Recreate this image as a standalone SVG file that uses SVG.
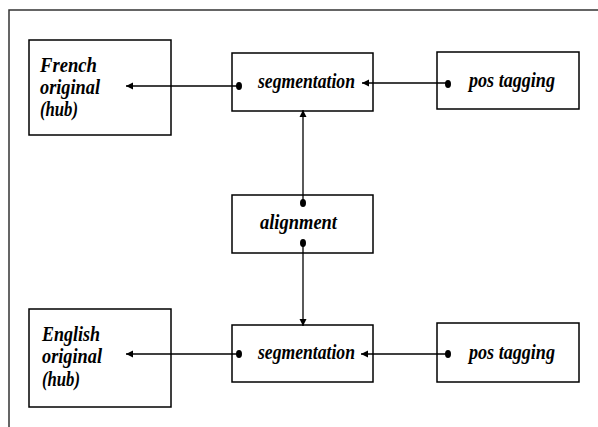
<svg xmlns="http://www.w3.org/2000/svg" width="598" height="427" viewBox="0 0 598 427">
<style>
.box{fill:#fff;stroke:#000;stroke-width:1.5}
.frame{fill:none;stroke:#333;stroke-width:1.5}
.t{font-family:'Liberation Serif','Times New Roman',serif;font-style:italic;font-weight:bold;font-size:21px;fill:#000}
.c{fill:none;stroke:#000;stroke-width:1.3}
.dot{fill:#000}
</style>
<defs>
<marker id="ah" viewBox="0 0 10 10" refX="10" refY="5" markerWidth="7" markerHeight="9" markerUnits="userSpaceOnUse" orient="auto">
<path d="M0,0 L10,5 L0,10 Z" fill="#000"/>
</marker>
</defs>
<rect width="598" height="427" fill="#fff"/>
<path class="frame" d="M9,427 V10 H598"/>
<g id="french">
<rect class="box" x="29" y="40" width="142" height="95"/>
<text class="t" x="40" y="72" textLength="57" lengthAdjust="spacingAndGlyphs">French</text>
<text class="t" x="40" y="94" textLength="60" lengthAdjust="spacingAndGlyphs">original</text>
<text class="t" x="40" y="116" textLength="38" lengthAdjust="spacingAndGlyphs">(hub)</text>
</g>
<g id="seg-top">
<rect class="box" x="232" y="53" width="141" height="58"/>
<text class="t" x="258" y="88" textLength="97" lengthAdjust="spacingAndGlyphs">segmentation</text>
</g>
<g id="pos-top">
<rect class="box" x="437" y="52" width="142" height="57"/>
<text class="t" x="469" y="87" textLength="86" lengthAdjust="spacingAndGlyphs">pos tagging</text>
</g>
<g id="alignment">
<rect class="box" x="232" y="195" width="141" height="58"/>
<text class="t" x="260" y="229" textLength="77" lengthAdjust="spacingAndGlyphs">alignment</text>
</g>
<g id="english">
<rect class="box" x="29" y="309" width="142" height="98"/>
<text class="t" x="42" y="341" textLength="58" lengthAdjust="spacingAndGlyphs">English</text>
<text class="t" x="42" y="363" textLength="60" lengthAdjust="spacingAndGlyphs">original</text>
<text class="t" x="42" y="386" textLength="38" lengthAdjust="spacingAndGlyphs">(hub)</text>
</g>
<g id="seg-bot">
<rect class="box" x="232" y="325" width="141" height="57"/>
<text class="t" x="258" y="359" textLength="97" lengthAdjust="spacingAndGlyphs">segmentation</text>
</g>
<g id="pos-bot">
<rect class="box" x="437" y="323" width="142" height="59"/>
<text class="t" x="469" y="359" textLength="86" lengthAdjust="spacingAndGlyphs">pos tagging</text>
</g>
<g id="connectors">
<path class="c" d="M239,86 H126" marker-end="url(#ah)"/>
<ellipse class="dot" cx="239" cy="86" rx="3" ry="4"/>
<path class="c" d="M448,83 H362" marker-end="url(#ah)"/>
<ellipse class="dot" cx="448" cy="84" rx="3" ry="4"/>
<path class="c" d="M303,203 V110" marker-end="url(#ah)"/>
<ellipse class="dot" cx="303" cy="203" rx="3" ry="4"/>
<path class="c" d="M303,243 V326" marker-end="url(#ah)"/>
<ellipse class="dot" cx="303" cy="243" rx="3" ry="4"/>
<path class="c" d="M239,354 H126" marker-end="url(#ah)"/>
<ellipse class="dot" cx="239" cy="354" rx="3" ry="4"/>
<path class="c" d="M448,354 H361" marker-end="url(#ah)"/>
<ellipse class="dot" cx="448" cy="354" rx="3" ry="4"/>
</g>
</svg>
